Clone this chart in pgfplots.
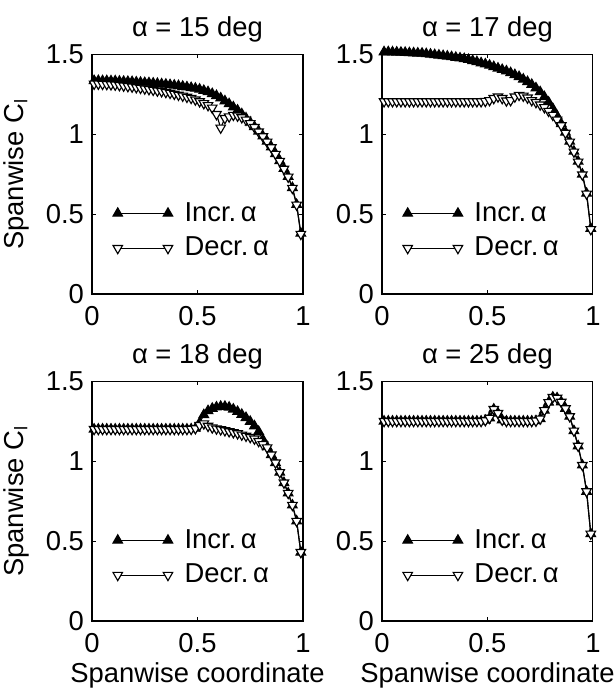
\documentclass[border=0pt]{standalone}
\usepackage{fontspec}
\setmainfont{Liberation Sans}
\usepackage{pgfplots}
\usepackage{pgfplotstable}
\pgfplotsset{compat=1.18}

% spanwise lift distributions
\pgfplotstableread{
x inc dec
0.01 1.335 1.315
0.03 1.335 1.315
0.05 1.334 1.314
0.07 1.334 1.313
0.09 1.333 1.311
0.11 1.333 1.309
0.13 1.331 1.306
0.15 1.330 1.303
0.17 1.329 1.300
0.19 1.328 1.297
0.21 1.326 1.293
0.23 1.324 1.289
0.25 1.322 1.285
0.27 1.321 1.281
0.29 1.319 1.277
0.31 1.317 1.272
0.33 1.314 1.268
0.35 1.312 1.263
0.37 1.309 1.258
0.39 1.306 1.252
0.41 1.303 1.246
0.43 1.299 1.240
0.45 1.295 1.233
0.47 1.291 1.226
0.49 1.287 1.216
0.51 1.281 1.205
0.53 1.273 1.193
0.55 1.265 1.181
0.57 1.253 1.165
0.59 1.241 1.125
0.61 1.226 1.040
0.63 1.208 1.100
0.65 1.190 1.110
0.67 1.170 1.120
0.69 1.150 1.115
0.71 1.127 1.105
0.73 1.101 1.090
0.75 1.075 1.068
0.77 1.047 1.044
0.79 1.019 1.016
0.81 0.988 0.986
0.83 0.955 0.952
0.85 0.920 0.917
0.87 0.878 0.876
0.89 0.834 0.832
0.91 0.785 0.783
0.93 0.735 0.733
0.95 0.665 0.663
0.97 0.560 0.558
0.99 0.380 0.375
}\aoafifteen

\pgfplotstableread{
x inc dec
0.01 1.515 1.205
0.03 1.515 1.205
0.05 1.514 1.205
0.07 1.513 1.205
0.09 1.512 1.205
0.11 1.511 1.205
0.13 1.509 1.205
0.15 1.508 1.205
0.17 1.507 1.205
0.19 1.506 1.205
0.21 1.503 1.205
0.23 1.500 1.205
0.25 1.497 1.205
0.27 1.494 1.205
0.29 1.491 1.205
0.31 1.488 1.205
0.33 1.484 1.205
0.35 1.480 1.205
0.37 1.476 1.205
0.39 1.472 1.205
0.41 1.467 1.205
0.43 1.460 1.205
0.45 1.453 1.205
0.47 1.446 1.205
0.49 1.439 1.207
0.51 1.431 1.212
0.53 1.422 1.225
0.55 1.413 1.235
0.57 1.404 1.225
0.59 1.395 1.210
0.61 1.384 1.212
0.63 1.372 1.235
0.65 1.360 1.245
0.67 1.344 1.240
0.69 1.328 1.228
0.71 1.311 1.212
0.73 1.289 1.200
0.75 1.265 1.185
0.77 1.234 1.168
0.79 1.200 1.145
0.81 1.160 1.120
0.83 1.115 1.090
0.85 1.065 1.055
0.87 1.012 1.008
0.89 0.955 0.952
0.91 0.893 0.890
0.93 0.830 0.827
0.95 0.750 0.747
0.97 0.630 0.627
0.99 0.410 0.405
}\aoaseventeen

\pgfplotstableread{
x inc dec
0.01 1.200 1.200
0.03 1.200 1.200
0.05 1.200 1.200
0.07 1.200 1.200
0.09 1.200 1.200
0.11 1.200 1.200
0.13 1.200 1.200
0.15 1.200 1.200
0.17 1.200 1.200
0.19 1.200 1.200
0.21 1.200 1.200
0.23 1.200 1.200
0.25 1.200 1.200
0.27 1.200 1.200
0.29 1.200 1.200
0.31 1.200 1.200
0.33 1.200 1.200
0.35 1.200 1.200
0.37 1.200 1.200
0.39 1.200 1.200
0.41 1.200 1.200
0.43 1.200 1.200
0.45 1.200 1.200
0.47 1.201 1.201
0.49 1.205 1.205
0.51 1.240 1.225
0.53 1.290 1.235
0.55 1.315 1.220
0.57 1.330 1.210
0.59 1.338 1.203
0.61 1.342 1.198
0.63 1.342 1.192
0.65 1.337 1.186
0.67 1.325 1.180
0.69 1.310 1.173
0.71 1.292 1.165
0.73 1.272 1.158
0.75 1.248 1.150
0.77 1.220 1.140
0.79 1.185 1.125
0.81 1.135 1.105
0.83 1.090 1.085
0.85 1.040 1.040
0.87 0.990 0.990
0.89 0.930 0.930
0.91 0.865 0.865
0.93 0.800 0.800
0.95 0.725 0.725
0.97 0.625 0.625
0.99 0.430 0.430
}\aoaeighteen

\pgfplotstableread{
x inc dec
0.01 1.250 1.250
0.03 1.250 1.250
0.05 1.250 1.250
0.07 1.250 1.250
0.09 1.250 1.250
0.11 1.250 1.250
0.13 1.250 1.250
0.15 1.250 1.250
0.17 1.250 1.250
0.19 1.250 1.250
0.21 1.250 1.250
0.23 1.250 1.250
0.25 1.250 1.250
0.27 1.250 1.250
0.29 1.250 1.250
0.31 1.250 1.250
0.33 1.250 1.250
0.35 1.250 1.250
0.37 1.250 1.250
0.39 1.250 1.250
0.41 1.250 1.250
0.43 1.250 1.250
0.45 1.250 1.250
0.47 1.250 1.250
0.49 1.255 1.255
0.51 1.270 1.270
0.53 1.325 1.325
0.55 1.300 1.300
0.57 1.258 1.258
0.59 1.250 1.250
0.61 1.250 1.250
0.63 1.250 1.250
0.65 1.250 1.250
0.67 1.250 1.250
0.69 1.250 1.250
0.71 1.250 1.250
0.73 1.252 1.252
0.75 1.265 1.265
0.77 1.318 1.318
0.79 1.368 1.368
0.81 1.400 1.400
0.83 1.395 1.395
0.85 1.370 1.370
0.87 1.330 1.330
0.89 1.280 1.280
0.91 1.190 1.190
0.93 1.095 1.095
0.95 0.975 0.975
0.97 0.810 0.810
0.99 0.545 0.545
}\aoatwentyfive

\pgfplotsset{
  panel/.style={
    scale only axis, width=92.4pt, height=105pt,
    xmin=0, xmax=1, ymin=0, ymax=1.5,
    xtick={0,0.5,1}, ytick={0,0.5,1,1.5},
    tick align=inside, major tick length=1.6pt,
    axis line style={line width=0.5pt},
    tick style={black, line width=0.4pt},
    /pgf/number format/assume math mode=true,
    ticklabel style={font=\fontsize{12}{14}\selectfont},
    xticklabel style={yshift=-2pt},
    title style={at={(axis description cs:0.5,1)}, anchor=base, yshift=2pt,
      font=\fontsize{12}{14}\selectfont},
    xlabel style={at={(axis description cs:0.5,-0.229)}, anchor=center,
      font=\fontsize{12}{14}\selectfont},
    ylabel style={at={(axis description cs:-0.36,0.5)}, anchor=center, rotate=0,
      font=\fontsize{12}{14}\selectfont},
    clip=false,
    legend style={at={(axis description cs:0,0)}, anchor=south west,
      xshift=9pt, yshift=13pt, draw=none, fill=none, inner sep=0pt,
      row sep=1.5pt, font=\fontsize{12}{14}\selectfont},
    legend cell align=left,
    legend image code/.code={%
      \path (0pt,0pt) (27pt,0pt);
      \draw[##1] plot coordinates {(0pt,0pt) (22pt,0pt)};},
  },
  incr/.style={black, line width=0.5pt, mark=triangle*, mark size=2.4pt,
    mark options={fill=black, solid}},
  decr/.style={black, line width=0.5pt, mark=triangle*, mark size=2.4pt,
    mark options={rotate=180, fill=white, draw=black, solid}},
}

\begin{document}
\begin{tikzpicture}
\path[use as bounding box] (-40.3pt,-31.1pt) rectangle (229.1pt,272pt);

\begin{axis}[panel, at={(0pt,143.2pt)}, anchor=south west,
  title={α = 15 deg}, ylabel={Spanwise C\textsubscript{l}}]
\addplot[incr] table[x=x, y=inc] {\aoafifteen};
\addlegendentry{Incr.\,α}
\addplot[decr] table[x=x, y=dec] {\aoafifteen};
\addlegendentry{Decr.\,α}
\end{axis}

\begin{axis}[panel, at={(127pt,143.2pt)}, anchor=south west,
  title={α = 17 deg}]
\addplot[incr] table[x=x, y=inc] {\aoaseventeen};
\addlegendentry{Incr.\,α}
\addplot[decr] table[x=x, y=dec] {\aoaseventeen};
\addlegendentry{Decr.\,α}
\end{axis}

\begin{axis}[panel, at={(0pt,0pt)}, anchor=south west,
  title={α = 18 deg}, ylabel={Spanwise C\textsubscript{l}},
  xlabel={Spanwise coordinate}]
\addplot[incr] table[x=x, y=inc] {\aoaeighteen};
\addlegendentry{Incr.\,α}
\addplot[decr] table[x=x, y=dec] {\aoaeighteen};
\addlegendentry{Decr.\,α}
\end{axis}

\begin{axis}[panel, at={(127pt,0pt)}, anchor=south west,
  title={α = 25 deg}, xlabel={Spanwise coordinate}]
\addplot[incr] table[x=x, y=inc] {\aoatwentyfive};
\addlegendentry{Incr.\,α}
\addplot[decr] table[x=x, y=dec] {\aoatwentyfive};
\addlegendentry{Decr.\,α}
\end{axis}
\end{tikzpicture}
\end{document}
